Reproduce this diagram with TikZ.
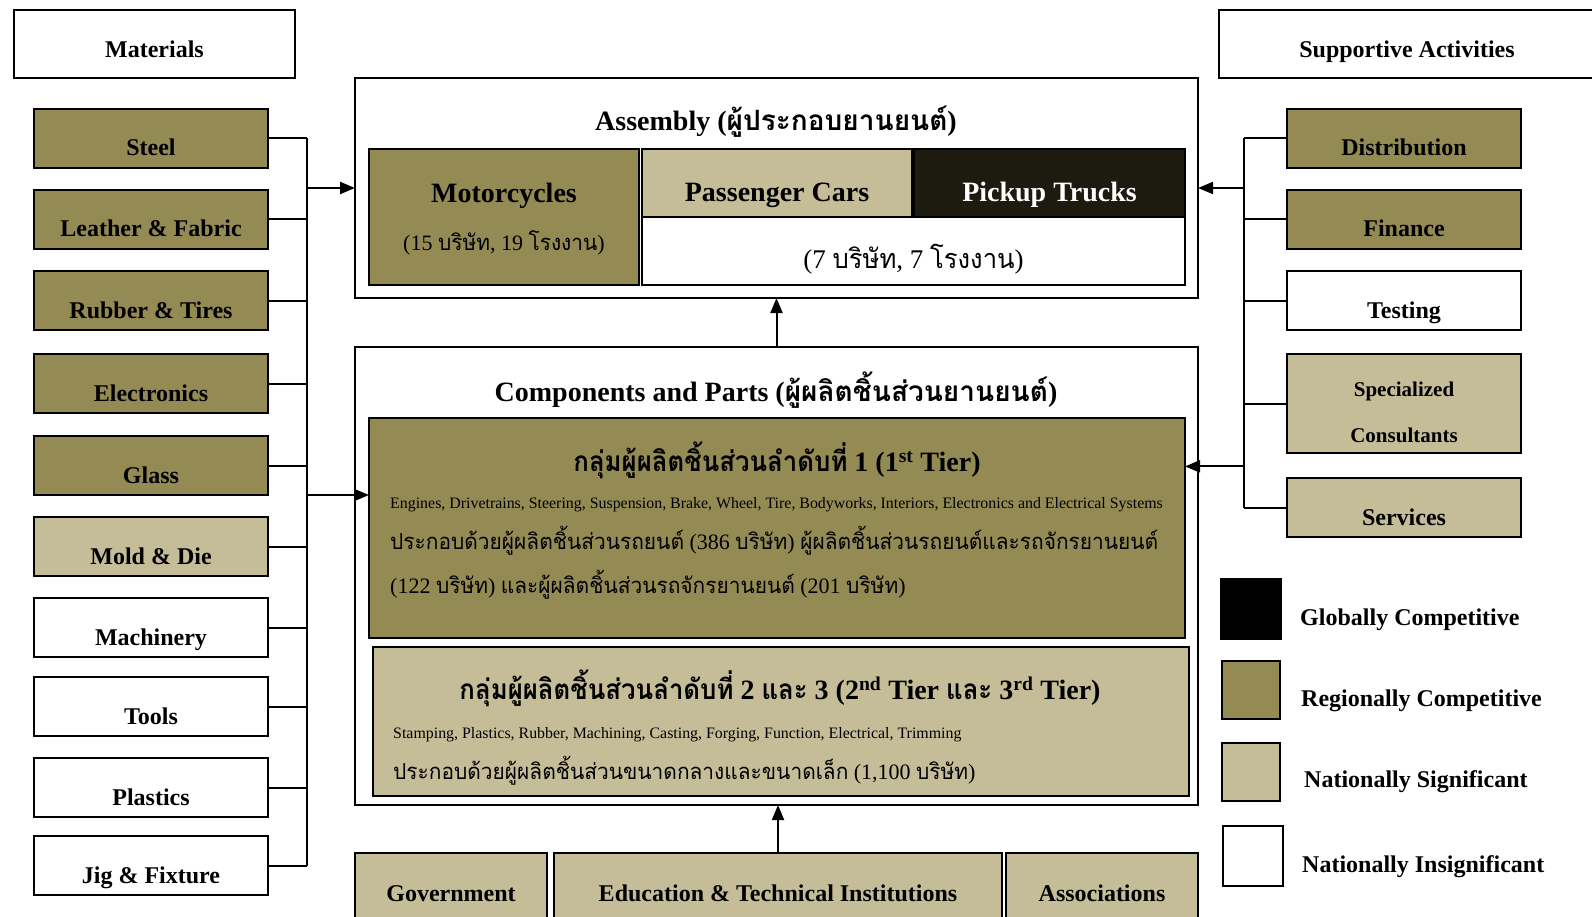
\documentclass[tikz,border=0pt]{standalone}
\usepackage{fontspec}
\setmainfont{Liberation Serif}
\newfontfamily\thaifont[Script=Thai,UprightFeatures={FakeStretch=0.95},BoldFeatures={FakeStretch=0.92}]{Loma}
\newfontfamily\thaiwide[Script=Thai]{Loma}
\newcommand{\thaitxt}[1]{{\thaifont #1}}
\newcommand{\thaihead}[1]{{\thaiwide #1}}
\usepackage{xcolor}
\usetikzlibrary{arrows.meta,positioning,calc}
\definecolor{regional}{HTML}{948A54}
\definecolor{national}{HTML}{C4BD97}
\definecolor{global}{HTML}{1D1B10}

\begin{document}
\begin{tikzpicture}[
        x=1pt,y=-1pt,
        >={Triangle[length=15pt,width=12pt]},
        node distance=22pt,
        box/.style={rectangle,draw=black,line width=1.5pt,inner sep=0pt,outer sep=0pt},
        item/.style={box,minimum width=234pt,text height=47pt,text depth=12pt,font=\fontsize{24}{28}\selectfont\bfseries},
        reg/.style={fill=regional},
        nat/.style={fill=national},
        glob/.style={fill=global},
        head/.style={inner sep=0pt,font=\fontsize{28}{32}\selectfont\bfseries},
        small/.style={inner sep=0pt,anchor=west,font=\fontsize{15.9}{18}\selectfont},
        body/.style={inner sep=0pt,anchor=west,font=\fontsize{22}{26}\selectfont},
        legend/.style={inner sep=0pt,anchor=west,font=\fontsize{24}{28}\selectfont\bfseries},
        wire/.style={line width=2pt},
        arrow/.style={->,line width=2pt}
    ]
        \useasboundingbox (0,0) rectangle (1592,917);

        % materials
        \node[box,minimum width=281pt,text height=48pt,text depth=20pt,font=\fontsize{24}{28}\selectfont\bfseries] (materials) at (154.5,44) {Materials};
        \node[item,reg,anchor=north west] (steel) at (34,109) {Steel};
        \node[item,reg,below=22pt of steel] (leather) {Leather \& Fabric};
        \node[item,reg,below=22pt of leather] (rubber) {Rubber \& Tires};
        \node[item,reg,below=24pt of rubber] (electronics) {Electronics};
        \node[item,reg,below=23pt of electronics] (glass) {Glass};
        \node[item,nat,below=22pt of glass] (mold) {Mold \& Die};
        \node[item,below=22pt of mold] (machinery) {Machinery};
        \node[item,below=20pt of machinery] (tools) {Tools};
        \node[item,below=22pt of tools] (plastics) {Plastics};
        \node[item,below=19pt of plastics] (jig) {Jig \& Fixture};

        % supportive activities
        \node[box,minimum width=376pt,text height=48pt,text depth=20pt,font=\fontsize{24}{28}\selectfont\bfseries] (support) at (1407,44) {Supportive Activities};
        \node[item,reg,anchor=north west] (distribution) at (1287,109) {Distribution};
        \node[item,reg,below=of distribution] (finance) {Finance};
        \node[item,below=of finance] (testing) {Testing};
        \node[box,nat,minimum width=234pt,minimum height=99pt,below=24pt of testing] (consult) {};
        \node[inner sep=0pt,align=center,font=\fontsize{21}{46}\selectfont\bfseries,yshift=-9pt] (consulttxt) at (consult) {Specialized\\Consultants};
        \node[item,nat,below=25pt of consult] (services) {Services};

        % assembly
        \node[box,line width=1.6pt,minimum width=843pt,minimum height=220pt] (assembly) at (776.5,188) {};
        \node[head] (asmtitle) at (776,122) {Assembly (\thaihead{ผู้ประกอบยานยนต์})};
        \node[box,reg,minimum width=270pt,minimum height=136pt] (moto) at (504,217) {};
        \node[head] (mototxt) at (504,196) {Motorcycles};
        \node[inner sep=0pt,font=\fontsize{22}{26}\selectfont] (motosub) at (504,243) {(15 \thaitxt{บริษัท}, 19 \thaitxt{โรงงาน})};
        \node[box,nat,minimum width=270pt,text height=53pt,text depth=15pt,font=\fontsize{28}{32}\selectfont\bfseries] (cars) at (777,183) {Passenger Cars};
        \node[box,glob,minimum width=271pt,text height=53pt,text depth=15pt,text=white,font=\fontsize{28}{32}\selectfont\bfseries] (pickup) at (1049.5,183) {Pickup Trucks};
        \node[box,fill=white,minimum width=543pt,text height=52pt,text depth=16pt,font=\fontsize{27}{31}\selectfont] (carsub) at (913.5,251) {(7 \thaitxt{บริษัท}, 7 \thaitxt{โรงงาน})};

        % components and parts
        \node[box,line width=1.6pt,minimum width=843pt,minimum height=458pt] (comp) at (776.5,576) {};
        \node[head] (comptitle) at (776,390) {Components and Parts (\thaihead{ผู้ผลิตชิ้นส่วนยานยนต์})};
        \node[box,reg,minimum width=816pt,minimum height=220pt] (tier1) at (777,528) {};
        \node[head] (tier1title) at (777,460) {\thaitxt{กลุ่มผู้ผลิตชิ้นส่วนลำดับที่} 1 (1\textsuperscript{st} Tier)};
        \node[small] (tier1list) at (390,505) {Engines, Drivetrains, Steering, Suspension, Brake, Wheel, Tire, Bodyworks, Interiors, Electronics and Electrical Systems};
        \node[body] (tier1a) at (390,541) {\thaitxt{ประกอบด้วยผู้ผลิตชิ้นส่วนรถยนต์} (386 \thaitxt{บริษัท}) \thaitxt{ผู้ผลิตชิ้นส่วนรถยนต์และรถจักรยานยนต์}};
        \node[body] (tier1b) at (390,585) {(122 \thaitxt{บริษัท}) \thaitxt{และผู้ผลิตชิ้นส่วนรถจักรยานยนต์} (201 \thaitxt{บริษัท})};
        \node[box,nat,minimum width=816pt,minimum height=149pt] (tier2) at (781,721.5) {};
        \node[head] (tier2title) at (780,688) {\thaitxt{กลุ่มผู้ผลิตชิ้นส่วนลำดับที่} 2 \thaitxt{และ} 3 (2\textsuperscript{nd} Tier \thaitxt{และ} 3\textsuperscript{rd} Tier)};
        \node[small] (tier2list) at (393,735) {Stamping, Plastics, Rubber, Machining, Casting, Forging, Function, Electrical, Trimming};
        \node[body] (tier2a) at (393,771) {\thaitxt{ประกอบด้วยผู้ผลิตชิ้นส่วนขนาดกลางและขนาดเล็ก} (1,100 \thaitxt{บริษัท})};

        % institutions
        \node[box,nat,minimum width=192pt,text height=48pt,text depth=60pt,anchor=north,font=\fontsize{24}{28}\selectfont\bfseries] (gov) at (451,853) {Government};
        \node[box,nat,minimum width=448pt,text height=48pt,text depth=60pt,anchor=north,font=\fontsize{24}{28}\selectfont\bfseries] (edu) at (778,853) {Education \& Technical Institutions};
        \node[box,nat,minimum width=192pt,text height=48pt,text depth=60pt,anchor=north,font=\fontsize{24}{28}\selectfont\bfseries] (assoc) at (1102,853) {Associations};

        % legend
        \node[box,fill=black,minimum size=60pt] (globkey) at (1251,609) {};
        \node[box,reg,minimum size=58pt] (regkey) at (1251,690) {};
        \node[box,nat,minimum size=58pt] (natkey) at (1251,772) {};
        \node[box,minimum size=60pt] (inskey) at (1253,856) {};
        \node[legend] (globtxt) at (1300,620) {Globally Competitive};
        \node[legend] (regtxt) at (1301,701) {Regionally Competitive};
        \node[legend] (nattxt) at (1304,782) {Nationally Significant};
        \node[legend] (instxt) at (1302,867) {Nationally Insignificant};

        % left bus
        \coordinate (lbus) at (307,0);
        \draw[wire] (steel.east) -- (steel.east -| lbus);
        \draw[wire] (leather.east) -- (leather.east -| lbus);
        \draw[wire] (rubber.east) -- (rubber.east -| lbus);
        \draw[wire] (electronics.east) -- (electronics.east -| lbus);
        \draw[wire] (glass.east) -- (glass.east -| lbus);
        \draw[wire] (mold.east) -- (mold.east -| lbus);
        \draw[wire] (machinery.east) -- (machinery.east -| lbus);
        \draw[wire] (tools.east) -- (tools.east -| lbus);
        \draw[wire] (plastics.east) -- (plastics.east -| lbus);
        \draw[wire] (jig.east) -- (jig.east -| lbus);
        \draw[wire] (steel.east -| lbus) -- (jig.east -| lbus);
        \coordinate (t1left) at ($(tier1.north west)!0.35!(tier1.south west)$);
        \draw[arrow] (lbus |- assembly.west) -- (assembly.west);
        \draw[arrow] (t1left -| lbus) -- (t1left);

        % right bus
        \coordinate (rbus) at (1244,0);
        \draw[wire] (distribution.west) -- (distribution.west -| rbus);
        \draw[wire] (finance.west) -- (finance.west -| rbus);
        \draw[wire] (testing.west) -- (testing.west -| rbus);
        \draw[wire] (consult.west) -- (consult.west -| rbus);
        \draw[wire] (services.west) -- (services.west -| rbus);
        \draw[wire] (distribution.west -| rbus) -- (services.west -| rbus);
        \coordinate (t1right) at ($(tier1.north east)!0.22!(tier1.south east)$);
        \draw[arrow] (rbus |- assembly.east) -- (assembly.east);
        \draw[arrow] (t1right -| rbus) -- (t1right);

        \draw[arrow] (comp.north) -- (assembly.south);
        \draw[arrow] (edu.north) -- (edu.north |- comp.south);
    \end{tikzpicture}
\end{document}
